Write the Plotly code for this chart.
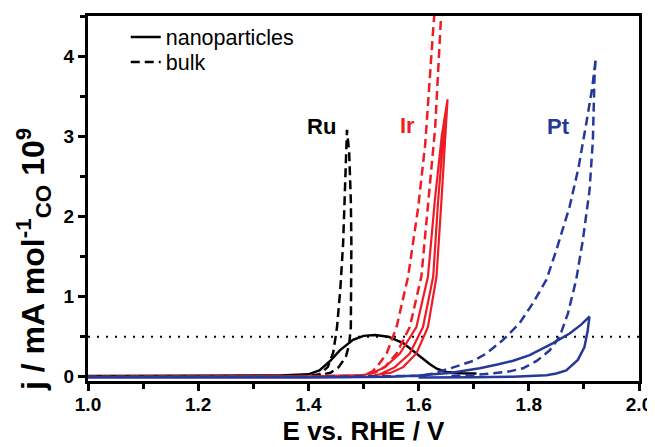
import plotly.graph_objects as go

# ---------------- data ----------------
# Ru bulk (dashed black): CV loop, forward then reverse
ru_bulk_E = [1.00, 1.20, 1.35, 1.40, 1.42, 1.435, 1.445, 1.452, 1.458, 1.463, 1.467, 1.470,
             1.474, 1.477, 1.478, 1.478, 1.477, 1.474, 1.468, 1.455, 1.44, 1.42, 1.40, 1.30]
ru_bulk_j = [0.00, 0.00, 0.005, 0.01, 0.03, 0.12, 0.30, 0.62, 1.10, 1.66, 2.40, 3.08,
             2.80, 2.20, 1.66, 1.00, 0.62, 0.40, 0.25, 0.12, 0.05, 0.02, 0.01, 0.005]

# Ru nanoparticles (solid black)
ru_nano_E = [1.00, 1.20, 1.35, 1.40, 1.42, 1.44, 1.457, 1.481, 1.50, 1.521, 1.545, 1.572,
             1.602, 1.62, 1.633, 1.65, 1.68, 1.705]
ru_nano_j = [0.01, 0.01, 0.015, 0.03, 0.08, 0.20, 0.33, 0.46, 0.51, 0.52, 0.50, 0.42,
             0.25, 0.16, 0.10, 0.06, 0.045, 0.04]

# Ir bulk (dashed red)
ir_bulk_E = [1.00, 1.20, 1.40, 1.48, 1.50, 1.515, 1.524, 1.542, 1.560, 1.581, 1.599, 1.612,
             1.6265, 1.633, 1.648, 1.6404, 1.630, 1.619, 1.605, 1.584, 1.560, 1.54, 1.52,
             1.50, 1.48]
ir_bulk_j = [0.00, 0.005, 0.005, 0.01, 0.02, 0.06, 0.12, 0.29, 0.62, 1.25, 2.10, 2.90,
             4.34, 4.90, 4.90, 4.45, 3.10, 2.29, 1.25, 0.62, 0.29, 0.13, 0.05,
             0.02, 0.01]

# Ir nanoparticles (solid red): two forward sweeps and one reverse sweep
ir_nano_E = [1.00, 1.20, 1.40, 1.50, 1.52, 1.539, 1.566, 1.596, 1.617, 1.6295, 1.642, 1.6525,
             1.648, 1.6415, 1.6325, 1.617, 1.596, 1.572, 1.55, 1.52,
             1.53, 1.557, 1.584, 1.608, 1.6265, 1.6355, 1.645, 1.6525]
ir_nano_j = [0.00, 0.00, 0.005, 0.02, 0.06, 0.12, 0.29, 0.62, 1.25, 2.20, 3.00, 3.46,
             3.00, 2.20, 1.25, 0.62, 0.29, 0.12, 0.05, 0.02,
             0.03, 0.12, 0.29, 0.62, 1.25, 2.20, 3.00, 3.46]

# Pt bulk (dashed blue)
pt_bulk_E = [1.00, 1.20, 1.40, 1.60, 1.62, 1.66, 1.70, 1.723, 1.7533, 1.7835, 1.8076, 1.832,
             1.850, 1.874, 1.89, 1.9043, 1.915, 1.9215, 1.9194, 1.9163, 1.9103, 1.898, 1.886,
             1.871, 1.856, 1.838, 1.815, 1.7895, 1.76, 1.729, 1.70, 1.65]
pt_bulk_j = [0.00, 0.00, 0.00, 0.01, 0.03, 0.11, 0.20, 0.29, 0.46, 0.67, 0.92, 1.21,
             1.58, 2.12, 2.60, 3.16, 3.60, 3.97, 3.78, 2.95, 2.33, 1.70, 1.21,
             0.79, 0.50, 0.33, 0.20, 0.105, 0.06, 0.04, 0.02, 0.01]

# Pt nanoparticles (solid blue)
pt_nano_E = [1.00, 1.20, 1.40, 1.55, 1.60, 1.66, 1.711, 1.741, 1.7716, 1.8016, 1.844, 1.874,
             1.895, 1.910, 1.907, 1.901, 1.889, 1.868, 1.85, 1.832, 1.80, 1.771,
             1.70, 1.60]
pt_nano_j = [-0.01, -0.01, -0.01, 0.00, 0.015, 0.05, 0.105, 0.15, 0.20, 0.27, 0.42, 0.54,
             0.65, 0.75, 0.58, 0.37, 0.21, 0.08, 0.04, 0.02, 0.005, 0.00,
             -0.005, -0.01]

# reference level (dotted)
ref_E = [1.0, 2.0]
ref_j = [0.5, 0.5]

# labels
metal_names = ["Ru", "Ir", "Pt"]
metal_E = [1.424, 1.580, 1.854]
metal_j = [3.12, 3.14, 3.12]

x_ticks = [1.0, 1.2, 1.4, 1.6, 1.8, 2.0]
y_ticks = [0, 1, 2, 3, 4]

BLACK = "#000000"
RED = "#EE1C25"
BLUE = "#26399A"
metal_colors = [BLACK, RED, BLUE]
DASH = "9px,5px"
FONT = "Liberation Sans, Arial, sans-serif"

fig = go.Figure()

fig.add_trace(go.Scatter(x=ref_E, y=ref_j, mode="lines",
                         line=dict(color=BLACK, width=2, dash="2px,7px"),
                         showlegend=False, hoverinfo="skip"))

fig.add_trace(go.Scatter(x=ru_bulk_E, y=ru_bulk_j, mode="lines",
                         line=dict(color=BLACK, width=2.5, dash=DASH), showlegend=False))
fig.add_trace(go.Scatter(x=ru_nano_E, y=ru_nano_j, mode="lines",
                         line=dict(color=BLACK, width=2.5), showlegend=False))
fig.add_trace(go.Scatter(x=ir_bulk_E, y=ir_bulk_j, mode="lines",
                         line=dict(color=RED, width=2.5, dash=DASH), showlegend=False))
fig.add_trace(go.Scatter(x=ir_nano_E, y=ir_nano_j, mode="lines",
                         line=dict(color=RED, width=2.2), showlegend=False))
fig.add_trace(go.Scatter(x=pt_bulk_E, y=pt_bulk_j, mode="lines",
                         line=dict(color=BLUE, width=2.5, dash=DASH), showlegend=False))
fig.add_trace(go.Scatter(x=pt_nano_E, y=pt_nano_j, mode="lines",
                         line=dict(color=BLUE, width=2.5), showlegend=False))

# legend entries (each in its own legend box to control spacing)
fig.add_trace(go.Scatter(x=[None], y=[None], mode="lines", name="nanoparticles",
                         line=dict(color=BLACK, width=2.5), legend="legend"))
fig.add_trace(go.Scatter(x=[None], y=[None], mode="lines", name="bulk",
                         line=dict(color=BLACK, width=2.5, dash=DASH), legend="legend2"))

for name, e, j, c in zip(metal_names, metal_E, metal_j, metal_colors):
    fig.add_annotation(x=e, y=j, text="<b>%s</b>" % name, showarrow=False,
                       font=dict(family=FONT, size=22, color=c))

# y-axis title (placed as an annotation so it can sit below the axis centre, as in the reference)
fig.add_annotation(xref="paper", yref="paper", x=-0.1, y=0.334,
                   xanchor="center", yanchor="middle", textangle=-90, showarrow=False,
                   text="<b>j / mA mol<sup>-1</sup><sub>CO</sub> 10<sup>9</sup></b>",
                   font=dict(family=FONT, size=32, color=BLACK))

axis_common = dict(showline=True, linecolor=BLACK, linewidth=3, mirror=True,
                   ticks="outside", ticklen=7, tickwidth=2.5, tickcolor=BLACK,
                   showgrid=False, zeroline=False, automargin=False,
                   tickfont=dict(family=FONT, size=19, color=BLACK, weight="bold"))

fig.update_xaxes(range=[1.0, 2.0], tickvals=x_ticks, tickformat=".1f",
                 ticklabelstandoff=-3,
                 minor=dict(ticks="outside", ticklen=5, tickwidth=2.5, tickcolor=BLACK, dtick=0.1),
                 title=dict(text="<b>E vs. RHE / V</b>", font=dict(family=FONT, size=26, color=BLACK),
                            standoff=9),
                 **axis_common)
fig.update_yaxes(range=[-0.053, 4.5], tickvals=y_ticks,
                 minor=dict(ticks="outside", ticklen=5, tickwidth=2.5, tickcolor=BLACK, dtick=0.5),
                 **axis_common)

leg_common = dict(xanchor="left", yanchor="middle",
                  font=dict(family=FONT, size=21.5, color=BLACK),
                  bgcolor="rgba(0,0,0,0)", itemwidth=30)

# the page body adds an 8px offset, compensated in the margins
fig.update_layout(
    width=655, height=447,
    margin=dict(l=80, r=24, t=8, b=74),
    paper_bgcolor="white", plot_bgcolor="white",
    legend=dict(x=0.0685, y=0.9425, **leg_common),
    legend2=dict(x=0.0685, y=0.874, **leg_common),
    showlegend=True,
)

fig.write_html("out.html")
